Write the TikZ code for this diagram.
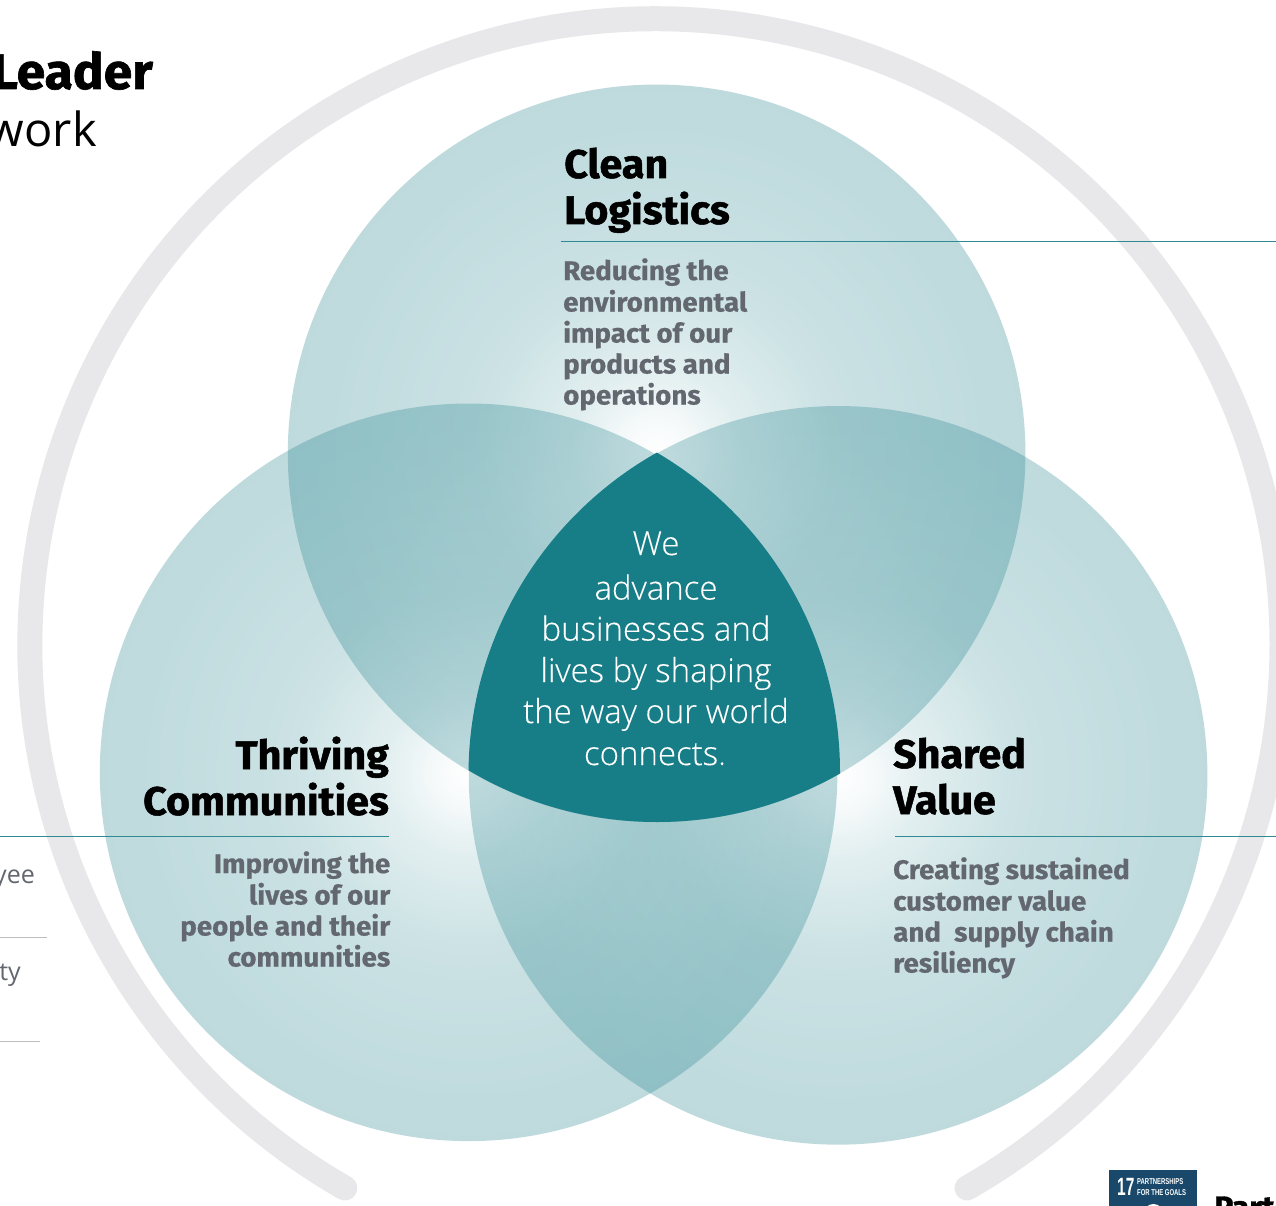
\documentclass[tikz,border=0pt]{standalone}
\usepackage{fontspec}
\usetikzlibrary{fadings}
\setmainfont{Open Sans}
\newfontfamily\headfont[FakeBold=1.3,FakeStretch=1.03]{Fira Sans Bold}
\newfontfamily\bodyfont[FakeBold=0.6,FakeStretch=1.035]{Fira Sans Bold}
\IfFontExistsTF{Open Sans Light}{\newfontfamily\lightfont[FakeBold=0.25]{Open Sans Light}}{\newfontfamily\lightfont{Open Sans}}
\newfontfamily\narrowfont{Liberation Sans}
\definecolor{deepteal}{HTML}{177D87}
\definecolor{ruleteal}{HTML}{2F8A94}
\definecolor{ringgrey}{HTML}{E8E8EA}
\definecolor{bodygrey}{HTML}{636770}
\definecolor{sdgblue}{HTML}{19486A}
\definecolor{rulegrey}{HTML}{BDBDBD}
\pgfdeclareradialshading{glowsh}{\pgfpointorigin}{gray(0bp)=(0);gray(2bp)=(0.03);gray(5.5bp)=(0.12);gray(12bp)=(0.22);gray(22bp)=(0.27);gray(32bp)=(0.296);gray(50bp)=(0.296)}
\pgfdeclarefading{glow}{\pgfuseshading{glowsh}}
\tikzset{
  venn/.style={fill=deepteal,path fading=glow},
  headtxt/.style={inner sep=0pt,font=\headfont\fontsize{40}{46}\selectfont,text=black},
  bodytxt/.style={inner sep=0pt,font=\bodyfont\fontsize{26.8}{31}\selectfont,text=bodygrey},
  centertxt/.style={inner sep=0pt,align=center,font=\lightfont\fontsize{33}{41.5}\selectfont,text=white},
  tealrule/.style={draw=ruleteal,line width=1.4pt},
  greyrule/.style={draw=rulegrey,line width=1pt},
  sidetxt/.style={inner sep=0pt,font=\fontsize{25}{30}\selectfont,text=bodygrey},
}
\begin{document}
\begin{tikzpicture}[x=1pt,y=-1pt]
\useasboundingbox (0,0) rectangle (1276,1206);
\clip (0,0) rectangle (1276,1206);
\fill[white] (0,0) rectangle (1276,1206);
% outer ring
\draw[ringgrey,line width=25pt,line cap=round] (967,1188) arc[start angle=60.2,end angle=-240.2,radius=626];
% circles
\fill[venn] (657,453) circle[radius=369];
\fill[venn] (469,772) circle[radius=369];
\fill[venn] (838.5,775) circle[radius=369.5];
% centre
\begin{scope}
\clip (657,453) circle[radius=369];
\clip (470,772) circle[radius=370];
\fill[deepteal] (838.5,775) circle[radius=370];
\end{scope}
% rules
\coordinate (cl) at (561,241.5); \coordinate (cr) at (1276,241.5);
\coordinate (tl) at (0,836.5); \coordinate (tr) at (389,836.5);
\coordinate (sl) at (895,836.5); \coordinate (sr) at (1276,836.5);
\coordinate (g1l) at (0,937); \coordinate (g1r) at (47,937);
\coordinate (g2l) at (0,1041); \coordinate (g2r) at (40,1041);
\draw[tealrule] (cl) -- (cr);
\draw[tealrule] (tl) -- (tr);
\draw[tealrule] (sl) -- (sr);
\draw[greyrule] (g1l) -- (g1r);
\draw[greyrule] (g2l) -- (g2r);
% headings
\node[headtxt,anchor=base west] (clean) at (564,178) {Clean};
\node[headtxt,anchor=base west] (logistics) at (564,224) {Logistics};
\node[headtxt,anchor=base east] (thriving) at (389,769) {Thriving};
\node[headtxt,anchor=base east] (communities) at (389,815) {Communities};
\node[headtxt,anchor=base west] (shared) at (893,768) {Shared};
\node[headtxt,anchor=base west] (value) at (893,814) {Value};
% bodies
\node[bodytxt,align=left,anchor=base west] (cb1) at (563,280) {Reducing the};
\node[bodytxt,anchor=base west] (cb2) at (563,311.5) {environmental};
\node[bodytxt,anchor=base west] (cb3) at (563,342.5) {impact of our};
\node[bodytxt,anchor=base west] (cb4) at (563,373.5) {products and};
\node[bodytxt,anchor=base west] (cb5) at (563,404.5) {operations};
\node[bodytxt,anchor=base east] (tb1) at (390.5,873) {Improving the};
\node[bodytxt,anchor=base east] (tb2) at (390.5,904.5) {lives of our};
\node[bodytxt,anchor=base east] (tb3) at (390.5,935.5) {people and their};
\node[bodytxt,anchor=base east] (tb4) at (390.5,966.5) {communities};
\node[bodytxt,anchor=base west] (sb1) at (893,879) {Creating sustained};
\node[bodytxt,anchor=base west] (sb2) at (893,910.5) {customer value};
\node[bodytxt,anchor=base west] (sb3) at (893,941.5) {and\ \ supply chain};
\node[bodytxt,anchor=base west] (sb4) at (893,972.5) {resiliency};
% centre text
\node[centertxt,anchor=base] (c1) at (656,555) {We};
\node[centertxt,anchor=base] (c2) at (656,599.5) {advance};
\node[centertxt,anchor=base] (c3) at (656,640.5) {businesses and};
\node[centertxt,anchor=base] (c4) at (656,682) {lives by shaping};
\node[centertxt,anchor=base] (c5) at (656,723) {the way our world};
\node[centertxt,anchor=base] (c6) at (655,765) {connects.};
% cut-off page text
\node[inner sep=0pt,anchor=base east,font=\headfont\fontsize{50}{50}\selectfont] (leader) at (153,89) {Leader};
\node[inner sep=0pt,anchor=base east,font=\fontsize{47}{50}\selectfont] (work) at (97,147) {work};
\node[sidetxt,anchor=base east] (yee) at (35,883.5) {yee};
\node[sidetxt,anchor=base east] (ty) at (21,980) {ty};
% SDG badge
\fill[sdgblue] (1109,1170) rectangle (1197,1206);
\fill[white] (1153.5,1214) circle[radius=10];
\node[inner sep=0pt,anchor=base west,text=white,font=\narrowfont\bfseries\fontsize{25}{25}\selectfont,xscale=0.62] (sdgn) at (1117,1195) {17};
\node[inner sep=0pt,anchor=base west,text=white,font=\narrowfont\bfseries\fontsize{8.5}{8.5}\selectfont,xscale=0.7] (sdga) at (1137,1184.5) {PARTNERSHIPS};
\node[inner sep=0pt,anchor=base west,text=white,font=\narrowfont\bfseries\fontsize{8.5}{8.5}\selectfont,xscale=0.7] (sdgb) at (1137,1195) {FOR THE GOALS};
\node[inner sep=0pt,anchor=base west,font=\headfont\fontsize{31}{31}\selectfont] (part) at (1214,1218) {Part};
\end{tikzpicture}
\end{document}
